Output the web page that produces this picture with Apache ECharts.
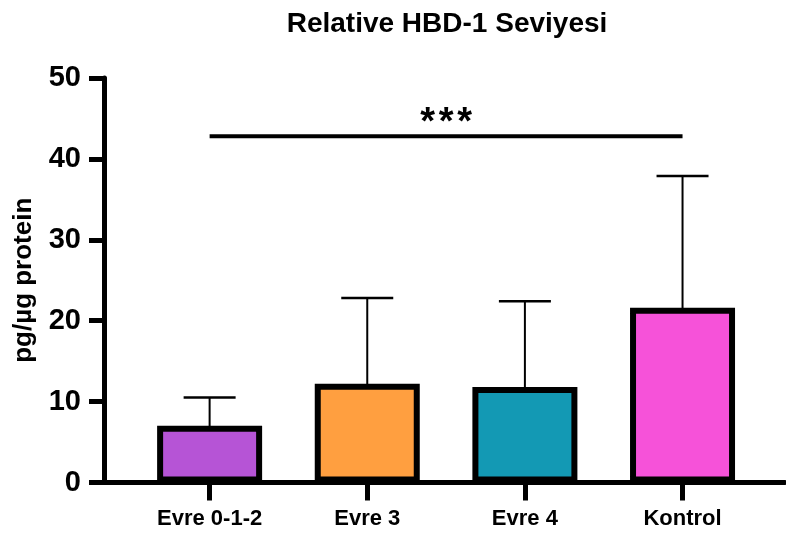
<!DOCTYPE html>
<html>
<head>
<meta charset="utf-8">
<script src="https://cdn.jsdelivr.net/npm/echarts@6/dist/echarts.min.js"></script>
<style>
html,body{margin:0;padding:0;background:#fff;}
#chart{width:786px;height:537px;}
</style>
</head>
<body>
<div id="chart"></div>
<script>
// ---- data ----
var categories = ['Evre 0-1-2', 'Evre 3', 'Evre 4', 'Kontrol'];
var means = [7.0, 12.2, 11.8, 21.6];
var upperErrors = [10.5, 22.8, 22.4, 37.9];
var barColors = ['#B654D6', '#FF9F40', '#1399B4', '#F652D9'];
var yTicks = [0, 10, 20, 30, 40, 50];
var sigFrom = 1, sigTo = 4, sigLevel = 42.8, sigText = '***';
var titleText = 'Relative HBD-1 Seviyesi';
var yName = 'pg/\u00b5g protein';

var FONT = '"Liberation Sans", Arial, Helvetica, sans-serif';
var positions = categories.map(function (c, i) { return i + 1; });

var chart = echarts.init(document.getElementById('chart'), null, {renderer: 'canvas'});

var barData = means.map(function (m, i) {
  return {value: [positions[i], m], itemStyle: {color: barColors[i]}};
});
var errData = means.map(function (m, i) { return [positions[i], m, upperErrors[i]]; });

chart.setOption({
  animation: false,
  backgroundColor: '#ffffff',
  title: {
    text: titleText,
    left: 442, top: 5, textAlign: 'center',
    textStyle: {fontFamily: FONT, fontWeight: 'bold', fontSize: 28, color: '#000'}
  },
  grid: {left: 104, right: 1, top: 78, bottom: 54.5, containLabel: false},
  xAxis: {
    type: 'value', min: 0.33, max: 4.65,
    splitLine: {show: false},
    axisLine: {show: true, lineStyle: {color: '#000', width: 5}},
    axisTick: {show: true, customValues: positions, length: 18, lineStyle: {color: '#000', width: 5}},
    axisLabel: {
      show: true, customValues: positions, margin: 25,
      fontFamily: FONT, fontWeight: 'bold', fontSize: 22, color: '#000',
      formatter: function (v) { return categories[Math.round(v) - 1] || ''; }
    }
  },
  yAxis: {
    type: 'value', min: 0, max: 50, interval: 10,
    splitLine: {show: false},
    axisLine: {show: true, lineStyle: {color: '#000', width: 5}},
    axisTick: {show: true, length: 15, lineStyle: {color: '#000', width: 5}},
    axisLabel: {margin: 23, fontFamily: FONT, fontWeight: 'bold', fontSize: 29, color: '#000'},
    name: yName, nameLocation: 'middle', nameGap: 67, nameRotate: 90,
    nameTextStyle: {fontFamily: FONT, fontWeight: 'bold', fontSize: 26, color: '#000'}
  },
  series: [
    {
      type: 'custom', z: 1,
      data: errData,
      renderItem: function (params, api) {
        var base = api.coord([api.value(0), api.value(1)]);
        var top = api.coord([api.value(0), api.value(2)]);
        return {
          type: 'group',
          children: [
            {type: 'line', shape: {x1: base[0], y1: base[1] + 4, x2: top[0], y2: top[1]},
             style: {stroke: '#000', lineWidth: 2}},
            {type: 'line', shape: {x1: top[0] - 26, y1: top[1], x2: top[0] + 26, y2: top[1]},
             style: {stroke: '#000', lineWidth: 2.5}}
          ]
        };
      }
    },
    {
      type: 'bar', z: 2,
      barWidth: 105,
      data: barData,
      itemStyle: {borderColor: '#000', borderWidth: 6}
    },
    {
      type: 'custom', z: 3,
      data: [[sigFrom, sigTo, sigLevel]],
      renderItem: function (params, api) {
        var a = api.coord([api.value(0), api.value(2)]);
        var b = api.coord([api.value(1), api.value(2)]);
        var chars = sigText.split('');
        var spacing = 18.5;
        var cx = (a[0] + b[0]) / 2;
        var children = [
          {type: 'line', shape: {x1: a[0], y1: a[1], x2: b[0], y2: b[1]},
           style: {stroke: '#000', lineWidth: 4}}
        ];
        chars.forEach(function (ch, k) {
          children.push({type: 'text', style: {
            text: ch, x: cx + (k - (chars.length - 1) / 2) * spacing, y: a[1] - 32,
            align: 'center', verticalAlign: 'top',
            font: 'bold 38px ' + FONT, fill: '#000'}});
        });
        return {type: 'group', children: children};
      }
    }
  ]
});
</script>
</body>
</html>
